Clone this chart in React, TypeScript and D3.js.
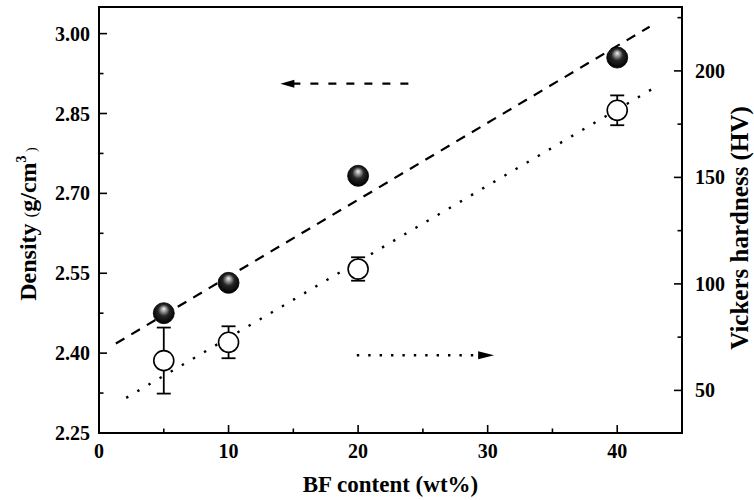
import React from "react";
import * as d3 from "d3";

// values
const bfContent = [5, 10, 20, 40];
const density = [2.475, 2.532, 2.733, 2.955];
const hardness = [64, 72.6, 107, 181.5];
const hardnessErr = [15.5, 7.5, 5.5, 7];

// fitted lines (end points)
const densityFitX = [1.3, 42.5];
const densityFitY = [2.418, 3.013];
const hardnessFitX = [2.1, 42.7];
const hardnessFitY = [46.5, 191.5];

const xTicks = [0, 10, 20, 30, 40];
const xMinor = [5, 15, 25, 35];
const densityTicks = [2.25, 2.4, 2.55, 2.7, 2.85, 3.0];
const densityMinor = [2.325, 2.475, 2.625, 2.775, 2.925];
const hardnessTicks = [50, 100, 150, 200];
const hardnessMinor = [75, 125, 175, 225];

const FONT = "'Liberation Serif', 'Times New Roman', serif";

export default function App() {
  const width = 754;
  const height = 500;
  const m = { left: 99, right: 72, top: 7, bottom: 67 };
  const x0 = m.left, x1 = width - m.right;
  const y0 = height - m.bottom, y1 = m.top;

  const x = d3.scaleLinear().domain([0, 45]).range([x0, x1]);
  const yD = d3.scaleLinear().domain([2.25, 3.05]).range([y0, y1]);
  const yH = d3.scaleLinear().domain([30, 230]).range([y0, y1]);

  const line = d3.line<[number, number]>().x(d => d[0]).y(d => d[1]);
  const dFit = line(densityFitX.map((v, i) => [x(v), yD(densityFitY[i])]));
  const hFit = line(hardnessFitX.map((v, i) => [x(v), yH(hardnessFitY[i])]));

  // arrows, in data units
  const dArrowY = yD(2.906);
  const dArrowTip = x(14), dArrowTail = x(24.2);
  const hArrowY = yH(66.5);
  const hArrowTail = x(19.9), hArrowTip = x(30.5);

  const tickStyle = { stroke: "#000", strokeWidth: 1.6 };
  const labelStyle: React.CSSProperties = { fontFamily: FONT, fontWeight: "bold", fontSize: 20 };

  return (
    <svg width={width} height={height} style={{ position: "absolute", left: 0, top: 0, background: "#fff" }}>
      <defs>
        <radialGradient id="sphere" cx="50%" cy="45%" r="55%" fx="50%" fy="28%">
          <stop offset="0%" stopColor="#f4f4f4" />
          <stop offset="22%" stopColor="#9a9a9a" />
          <stop offset="50%" stopColor="#262626" />
          <stop offset="100%" stopColor="#000" />
        </radialGradient>
      </defs>

      {/* fit lines */}
      <path d={dFit || ""} fill="none" stroke="#000" strokeWidth={2.2} strokeDasharray="10,8" />
      <path d={hFit || ""} fill="none" stroke="#000" strokeWidth={2.4} strokeDasharray="2.4,10.5" />

      {/* hardness: open circles with error bars */}
      {bfContent.map((b, i) => {
        const cx = x(b);
        const top = yH(hardness[i] + hardnessErr[i]);
        const bot = yH(hardness[i] - hardnessErr[i]);
        return (
          <g key={"h" + i}>
            <line x1={cx} x2={cx} y1={top} y2={bot} stroke="#000" strokeWidth={1.8} />
            <line x1={cx - 7} x2={cx + 7} y1={top} y2={top} stroke="#000" strokeWidth={1.8} />
            <line x1={cx - 7} x2={cx + 7} y1={bot} y2={bot} stroke="#000" strokeWidth={1.8} />
            <circle cx={cx} cy={yH(hardness[i])} r={10} fill="#fff" stroke="#000" strokeWidth={1.6} />
          </g>
        );
      })}

      {/* density: shaded spheres */}
      {bfContent.map((b, i) => (
        <circle key={"d" + i} cx={x(b)} cy={yD(density[i])} r={10.5} fill="url(#sphere)" stroke="#000" strokeWidth={0.8} />
      ))}

      {/* direction arrows */}
      <line x1={dArrowTip + 12} x2={dArrowTail} y1={dArrowY} y2={dArrowY} stroke="#000" strokeWidth={2.2} strokeDasharray="8,10" />
      <path d={`M${dArrowTip},${dArrowY} L${dArrowTip + 14},${dArrowY - 4} L${dArrowTip + 14},${dArrowY + 4} Z`} fill="#000" />
      <line x1={hArrowTail} x2={hArrowTip - 16} y1={hArrowY} y2={hArrowY} stroke="#000" strokeWidth={2.4} strokeDasharray="2.4,9" />
      <path d={`M${hArrowTip},${hArrowY} L${hArrowTip - 16},${hArrowY - 4} L${hArrowTip - 16},${hArrowY + 4} Z`} fill="#000" />

      {/* frame */}
      <rect x={x0} y={y1} width={x1 - x0} height={y0 - y1} fill="none" stroke="#000" strokeWidth={2} />

      {/* bottom axis */}
      {xTicks.map(t => (
        <g key={"xt" + t}>
          <line x1={x(t)} x2={x(t)} y1={y0} y2={y0 - 8} {...tickStyle} />
          <text x={x(t)} y={y0 + 25} textAnchor="middle" style={labelStyle}>{t}</text>
        </g>
      ))}
      {xMinor.map(t => (
        <line key={"xm" + t} x1={x(t)} x2={x(t)} y1={y0} y2={y0 - 4.5} {...tickStyle} />
      ))}

      {/* left axis */}
      {densityTicks.map(t => (
        <g key={"dt" + t}>
          <line x1={x0} x2={x0 + 8} y1={yD(t)} y2={yD(t)} {...tickStyle} />
          <text x={x0 - 9} y={yD(t) + 7} textAnchor="end" style={labelStyle}>{t.toFixed(2)}</text>
        </g>
      ))}
      {densityMinor.map(t => (
        <line key={"dm" + t} x1={x0} x2={x0 + 4.5} y1={yD(t)} y2={yD(t)} {...tickStyle} />
      ))}

      {/* right axis */}
      {hardnessTicks.map(t => (
        <g key={"ht" + t}>
          <line x1={x1} x2={x1 - 8} y1={yH(t)} y2={yH(t)} {...tickStyle} />
          <text x={x1 + 13} y={yH(t) + 7} textAnchor="start" style={labelStyle}>{t}</text>
        </g>
      ))}
      {hardnessMinor.map(t => (
        <line key={"hm" + t} x1={x1} x2={x1 - 4.5} y1={yH(t)} y2={yH(t)} {...tickStyle} />
      ))}

      {/* axis titles */}
      <text x={(x0 + x1) / 2} y={492} textAnchor="middle" style={{ ...labelStyle, fontSize: 23 }}>BF content (wt%)</text>
      <text transform={`translate(36, 224) rotate(-90)`} textAnchor="middle" style={{ ...labelStyle, fontSize: 24 }}>
        Density <tspan fontSize={17} fontWeight="normal">(</tspan>g/cm<tspan fontSize={14} dy={-10}>3</tspan><tspan fontSize={14} fontWeight="normal" dy={10}> )</tspan>
      </text>
      <text transform={`translate(748, 228) rotate(-90)`} textAnchor="middle" style={{ ...labelStyle, fontSize: 25 }}>
        Vickers hardness (HV)
      </text>
    </svg>
  );
}
